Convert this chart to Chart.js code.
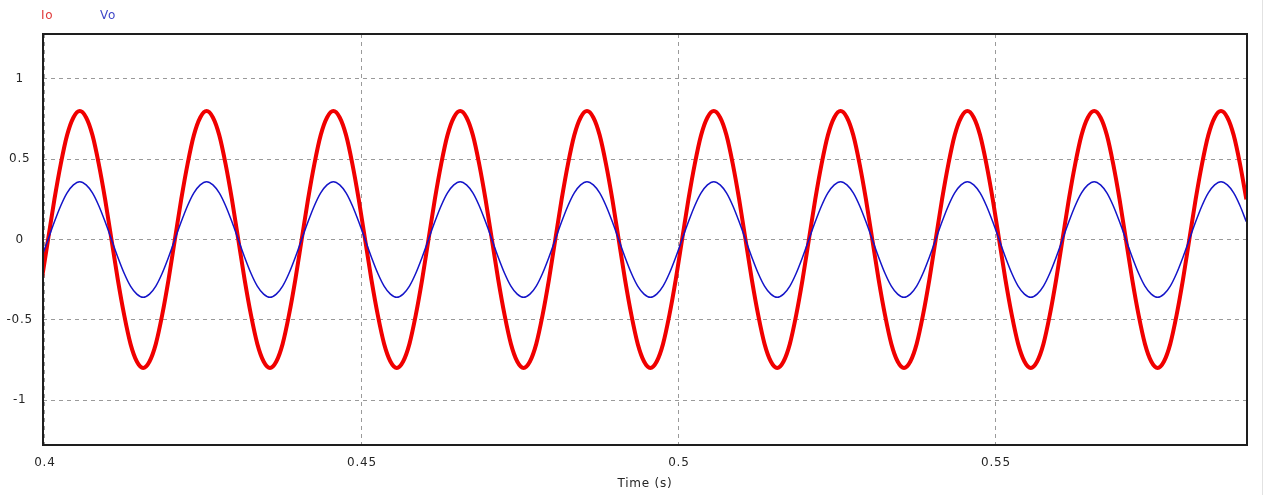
<!DOCTYPE html>
<html>
<head>
<meta charset="utf-8">
<script src="https://cdn.jsdelivr.net/npm/chart.js@4/dist/chart.umd.min.js"></script>
<style>
html,body{margin:0;padding:0;background:#fff;}
#wrap{width:1265px;height:495px;}
</style>
</head>
<body>
<div id="wrap"><canvas id="c" width="1265" height="495"></canvas></div>
<script>
// ---- Data ----
const seriesNames = ["Io", "Vo"];
const times = [
 0.3995,
 0.4005,0.4015,0.4025,0.4035,0.4045,0.4055,0.4065,0.4075,0.4085,0.4095,0.4105,0.4115,0.4125,0.4135,0.4145,0.4155,0.4165,0.4175,0.4185,0.4195,
 0.4205,0.4215,0.4225,0.4235,0.4245,0.4255,0.4265,0.4275,0.4285,0.4295,0.4305,0.4315,0.4325,0.4335,0.4345,0.4355,0.4365,0.4375,0.4385,0.4395,
 0.4405,0.4415,0.4425,0.4435,0.4445,0.4455,0.4465,0.4475,0.4485,0.4495,0.4505,0.4515,0.4525,0.4535,0.4545,0.4555,0.4565,0.4575,0.4585,0.4595,
 0.4605,0.4615,0.4625,0.4635,0.4645,0.4655,0.4665,0.4675,0.4685,0.4695,0.4705,0.4715,0.4725,0.4735,0.4745,0.4755,0.4765,0.4775,0.4785,0.4795,
 0.4805,0.4815,0.4825,0.4835,0.4845,0.4855,0.4865,0.4875,0.4885,0.4895,0.4905,0.4915,0.4925,0.4935,0.4945,0.4955,0.4965,0.4975,0.4985,0.4995,
 0.5005,0.5015,0.5025,0.5035,0.5045,0.5055,0.5065,0.5075,0.5085,0.5095,0.5105,0.5115,0.5125,0.5135,0.5145,0.5155,0.5165,0.5175,0.5185,0.5195,
 0.5205,0.5215,0.5225,0.5235,0.5245,0.5255,0.5265,0.5275,0.5285,0.5295,0.5305,0.5315,0.5325,0.5335,0.5345,0.5355,0.5365,0.5375,0.5385,0.5395,
 0.5405,0.5415,0.5425,0.5435,0.5445,0.5455,0.5465,0.5475,0.5485,0.5495,0.5505,0.5515,0.5525,0.5535,0.5545,0.5555,0.5565,0.5575,0.5585,0.5595,
 0.5605,0.5615,0.5625,0.5635,0.5645,0.5655,0.5665,0.5675,0.5685,0.5695,0.5705,0.5715,0.5725,0.5735,0.5745,0.5755,0.5765,0.5775,0.5785,0.5795,
 0.5805,0.5815,0.5825,0.5835,0.5845,0.5855,0.5865,0.5875,0.5885,0.5895
];
const ioValues = [
 -0.25,
 0,0.25,0.47,0.65,0.76,0.80,0.76,0.65,0.47,0.25,0,-0.25,-0.47,-0.65,-0.76,-0.80,-0.76,-0.65,-0.47,-0.25,
 0,0.25,0.47,0.65,0.76,0.80,0.76,0.65,0.47,0.25,0,-0.25,-0.47,-0.65,-0.76,-0.80,-0.76,-0.65,-0.47,-0.25,
 0,0.25,0.47,0.65,0.76,0.80,0.76,0.65,0.47,0.25,0,-0.25,-0.47,-0.65,-0.76,-0.80,-0.76,-0.65,-0.47,-0.25,
 0,0.25,0.47,0.65,0.76,0.80,0.76,0.65,0.47,0.25,0,-0.25,-0.47,-0.65,-0.76,-0.80,-0.76,-0.65,-0.47,-0.25,
 0,0.25,0.47,0.65,0.76,0.80,0.76,0.65,0.47,0.25,0,-0.25,-0.47,-0.65,-0.76,-0.80,-0.76,-0.65,-0.47,-0.25,
 0,0.25,0.47,0.65,0.76,0.80,0.76,0.65,0.47,0.25,0,-0.25,-0.47,-0.65,-0.76,-0.80,-0.76,-0.65,-0.47,-0.25,
 0,0.25,0.47,0.65,0.76,0.80,0.76,0.65,0.47,0.25,0,-0.25,-0.47,-0.65,-0.76,-0.80,-0.76,-0.65,-0.47,-0.25,
 0,0.25,0.47,0.65,0.76,0.80,0.76,0.65,0.47,0.25,0,-0.25,-0.47,-0.65,-0.76,-0.80,-0.76,-0.65,-0.47,-0.25,
 0,0.25,0.47,0.65,0.76,0.80,0.76,0.65,0.47,0.25,0,-0.25,-0.47,-0.65,-0.76,-0.80,-0.76,-0.65,-0.47,-0.25,
 0,0.25,0.47,0.65,0.76,0.80,0.76,0.65,0.47,0.25
];
const voValues = [
 -0.11,
 0,0.11,0.21,0.29,0.34,0.36,0.34,0.29,0.21,0.11,0,-0.11,-0.21,-0.29,-0.34,-0.36,-0.34,-0.29,-0.21,-0.11,
 0,0.11,0.21,0.29,0.34,0.36,0.34,0.29,0.21,0.11,0,-0.11,-0.21,-0.29,-0.34,-0.36,-0.34,-0.29,-0.21,-0.11,
 0,0.11,0.21,0.29,0.34,0.36,0.34,0.29,0.21,0.11,0,-0.11,-0.21,-0.29,-0.34,-0.36,-0.34,-0.29,-0.21,-0.11,
 0,0.11,0.21,0.29,0.34,0.36,0.34,0.29,0.21,0.11,0,-0.11,-0.21,-0.29,-0.34,-0.36,-0.34,-0.29,-0.21,-0.11,
 0,0.11,0.21,0.29,0.34,0.36,0.34,0.29,0.21,0.11,0,-0.11,-0.21,-0.29,-0.34,-0.36,-0.34,-0.29,-0.21,-0.11,
 0,0.11,0.21,0.29,0.34,0.36,0.34,0.29,0.21,0.11,0,-0.11,-0.21,-0.29,-0.34,-0.36,-0.34,-0.29,-0.21,-0.11,
 0,0.11,0.21,0.29,0.34,0.36,0.34,0.29,0.21,0.11,0,-0.11,-0.21,-0.29,-0.34,-0.36,-0.34,-0.29,-0.21,-0.11,
 0,0.11,0.21,0.29,0.34,0.36,0.34,0.29,0.21,0.11,0,-0.11,-0.21,-0.29,-0.34,-0.36,-0.34,-0.29,-0.21,-0.11,
 0,0.11,0.21,0.29,0.34,0.36,0.34,0.29,0.21,0.11,0,-0.11,-0.21,-0.29,-0.34,-0.36,-0.34,-0.29,-0.21,-0.11,
 0,0.11,0.21,0.29,0.34,0.36,0.34,0.29,0.21,0.11
];
const xTickValues = [0.4, 0.45, 0.5, 0.55];
const yTickValues = [-1, -0.5, 0, 0.5, 1];
const xAxisTitle = "Time (s)";

// ---- Chart ----
const FONT = {family: "'DejaVu Sans', Verdana, sans-serif", size: 12};
const TEXT_COLOR = '#262626';
const SPACING = '0.8px';

const spacingPlugin = {
  id: 'spacing',
  beforeUpdate(chart){ chart.ctx.letterSpacing = SPACING; },
  beforeDraw(chart){ chart.ctx.letterSpacing = SPACING; }
};

const framePlugin = {
  id: 'frame',
  afterDraw(chart){
    const {ctx, chartArea: a} = chart;
    ctx.save();
    ctx.strokeStyle = '#1e1e1e';
    ctx.lineWidth = 2;
    ctx.setLineDash([]);
    ctx.strokeRect(a.left, a.top, a.right - a.left, a.bottom - a.top);
    // faint edge line at right of picture
    ctx.strokeStyle = '#e2e2e2';
    ctx.lineWidth = 1;
    ctx.beginPath(); ctx.moveTo(1262.5, 0); ctx.lineTo(1262.5, 495); ctx.stroke();
    // legend texts
    ctx.letterSpacing = SPACING;
    ctx.font = FONT.size + 'px ' + FONT.family;
    ctx.textBaseline = 'middle';
    ctx.textAlign = 'left';
    const legendX = [41, 100];
    const legendColors = ['#e03a3a', '#4048c8'];
    chart.data.datasets.forEach((ds, i) => {
      ctx.fillStyle = legendColors[i];
      ctx.fillText(ds.label, legendX[i], 16);
    });
    ctx.restore();
  }
};

const chart = new Chart(document.getElementById('c'), {
  type: 'line',
  data: {
    datasets: [
      {
        label: seriesNames[0],
        data: times.map((t, i) => ({x: t, y: ioValues[i]})),
        borderColor: '#f00000',
        borderWidth: 4,
        pointRadius: 0,
        cubicInterpolationMode: 'monotone',
        fill: false,
        order: 1
      },
      {
        label: seriesNames[1],
        data: times.map((t, i) => ({x: t, y: voValues[i]})),
        borderColor: '#1414c8',
        borderWidth: 1.5,
        pointRadius: 0,
        cubicInterpolationMode: 'monotone',
        fill: false,
        order: 0
      }
    ]
  },
  options: {
    responsive: false,
    animation: false,
    devicePixelRatio: 1,
    layout: {padding: {top: 34, right: 18, left: 0, bottom: 0}},
    plugins: {legend: {display: false}, tooltip: {enabled: false}},
    scales: {
      x: {
        type: 'linear',
        min: 0.3997,
        max: 0.5896,
        afterBuildTicks(s){ s.ticks = xTickValues.map(v => ({value: v})); },
        afterFit(s){ s.height = 50; },
        ticks: {
          callback: v => String(v),
          font: FONT, color: TEXT_COLOR, padding: 11, maxRotation: 0, autoSkip: false
        },
        grid: {color: '#9a9a9a', lineWidth: 1, drawTicks: false},
        border: {display: false, dash: [4, 4]},
        title: {display: true, text: xAxisTitle, font: FONT, color: TEXT_COLOR, padding: {top: 0, bottom: 4}}
      },
      y: {
        type: 'linear',
        min: -1.28,
        max: 1.28,
        afterBuildTicks(s){ s.ticks = yTickValues.map(v => ({value: v})); },
        afterFit(s){ s.width = 43; },
        ticks: {
          callback: v => String(v),
          font: FONT, color: TEXT_COLOR, padding: 10, crossAlign: 'center'
        },
        grid: {color: '#9a9a9a', lineWidth: 1, drawTicks: false},
        border: {display: false, dash: [4, 4]}
      }
    }
  },
  plugins: [spacingPlugin, framePlugin]
});
</script>
</body>
</html>
